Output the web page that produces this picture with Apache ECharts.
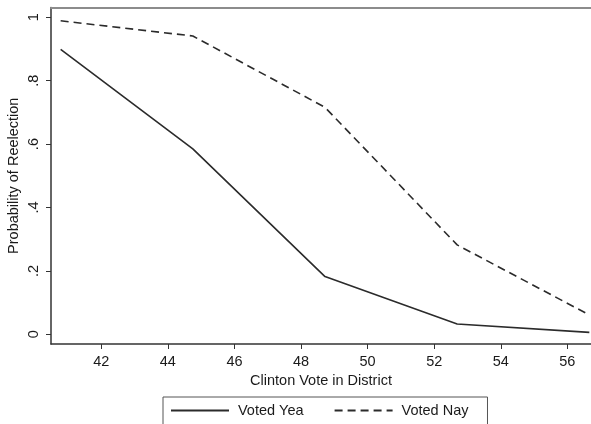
<!DOCTYPE html>
<html>
<head>
<meta charset="utf-8">
<script src="https://cdn.jsdelivr.net/npm/echarts@6/dist/echarts.min.js"></script>
<style>
html,body{margin:0;padding:0;background:#fff;}
#chart{width:591px;height:424px;}
</style>
</head>
<body>
<div id="chart"></div>
<script>
var clintonVote = [40.78, 44.75, 48.72, 52.69, 56.66];
var votedYea = [0.899, 0.585, 0.182, 0.0325, 0.006];
var votedNay = [0.989, 0.941, 0.716, 0.282, 0.061];
var xTicks = [42, 44, 46, 48, 50, 52, 54, 56];
var yTicks = [0, 0.2, 0.4, 0.6, 0.8, 1];

var FONT = '"Liberation Sans", Arial, Helvetica, sans-serif';
var TXT = '#1a1a1a';

function pairs(xs, ys) { return xs.map(function (x, i) { return [x, ys[i]]; }); }

var chart = echarts.init(document.getElementById('chart'), null, {renderer: 'canvas'});
chart.setOption({
  animation: false,
  backgroundColor: '#fff',
  textStyle: {fontFamily: FONT},
  grid: {
    left: 51, top: 7.5, right: 0, bottom: 80,
    outerBoundsMode: 'none', containLabel: false,
    show: false
  },
  xAxis: [{
    type: 'value',
    min: 40.49, max: 56.71,
    name: 'Clinton Vote in District',
    nameLocation: 'middle',
    nameGap: 27,
    nameTextStyle: {fontSize: 14.5, color: TXT, fontFamily: FONT},
    splitLine: {show: false},
    axisLine: {show: true, onZero: false, lineStyle: {color: '#333', width: 1.5}},
    axisTick: {show: true, length: 5, lineStyle: {color: '#333', width: 1}, customValues: xTicks},
    axisLabel: {fontSize: 14.5, color: TXT, margin: 10, fontFamily: FONT, customValues: xTicks}
  }, {
    type: 'value',
    position: 'top',
    min: 40.49, max: 56.71,
    splitLine: {show: false},
    axisLine: {show: true, onZero: false, lineStyle: {color: '#8c8c8c', width: 2}},
    axisTick: {show: false},
    axisLabel: {show: false}
  }],
  yAxis: {
    type: 'value',
    min: -0.0306, max: 1.0309,
    name: 'Probability of Reelection',
    nameLocation: 'middle',
    nameGap: 30,
    nameMoveOverlap: false,
    nameRotate: 90,
    nameTextStyle: {fontSize: 14.5, color: TXT, fontFamily: FONT},
    splitLine: {show: false},
    axisLine: {show: true, onZero: false, lineStyle: {color: '#333', width: 1.5}},
    axisTick: {show: true, length: 5, lineStyle: {color: '#333', width: 1}, customValues: yTicks},
    axisLabel: {
      fontSize: 14.5, color: TXT, margin: 10, rotate: 90, fontFamily: FONT,
      customValues: yTicks,
      formatter: function (v) {
        var s = String(Math.round(v * 10) / 10);
        return s.replace(/^0\./, '.');
      }
    }
  },
  legend: {
    left: 163, top: 397,
    orient: 'horizontal',
    borderColor: '#555', borderWidth: 1,
    padding: [6, 19, 12, 7],
    itemWidth: 58, itemHeight: 10, itemGap: 30,
    itemStyle: {opacity: 0},
    textStyle: {fontSize: 14.5, color: TXT, fontFamily: FONT, padding: [0, 0, 0, 4]},
    data: ['Voted Yea', 'Voted Nay']
  },
  series: [
    {
      name: 'Voted Yea', type: 'line', symbol: 'none',
      data: pairs(clintonVote, votedYea),
      lineStyle: {color: '#2b2b2b', width: 1.6, type: 'solid'},
      itemStyle: {color: '#2b2b2b'}
    },
    {
      name: 'Voted Nay', type: 'line', symbol: 'none',
      data: pairs(clintonVote, votedNay),
      lineStyle: {color: '#2b2b2b', width: 1.6, type: [8, 5]},
      itemStyle: {color: '#2b2b2b'}
    }
  ]
});
</script>
</body>
</html>
